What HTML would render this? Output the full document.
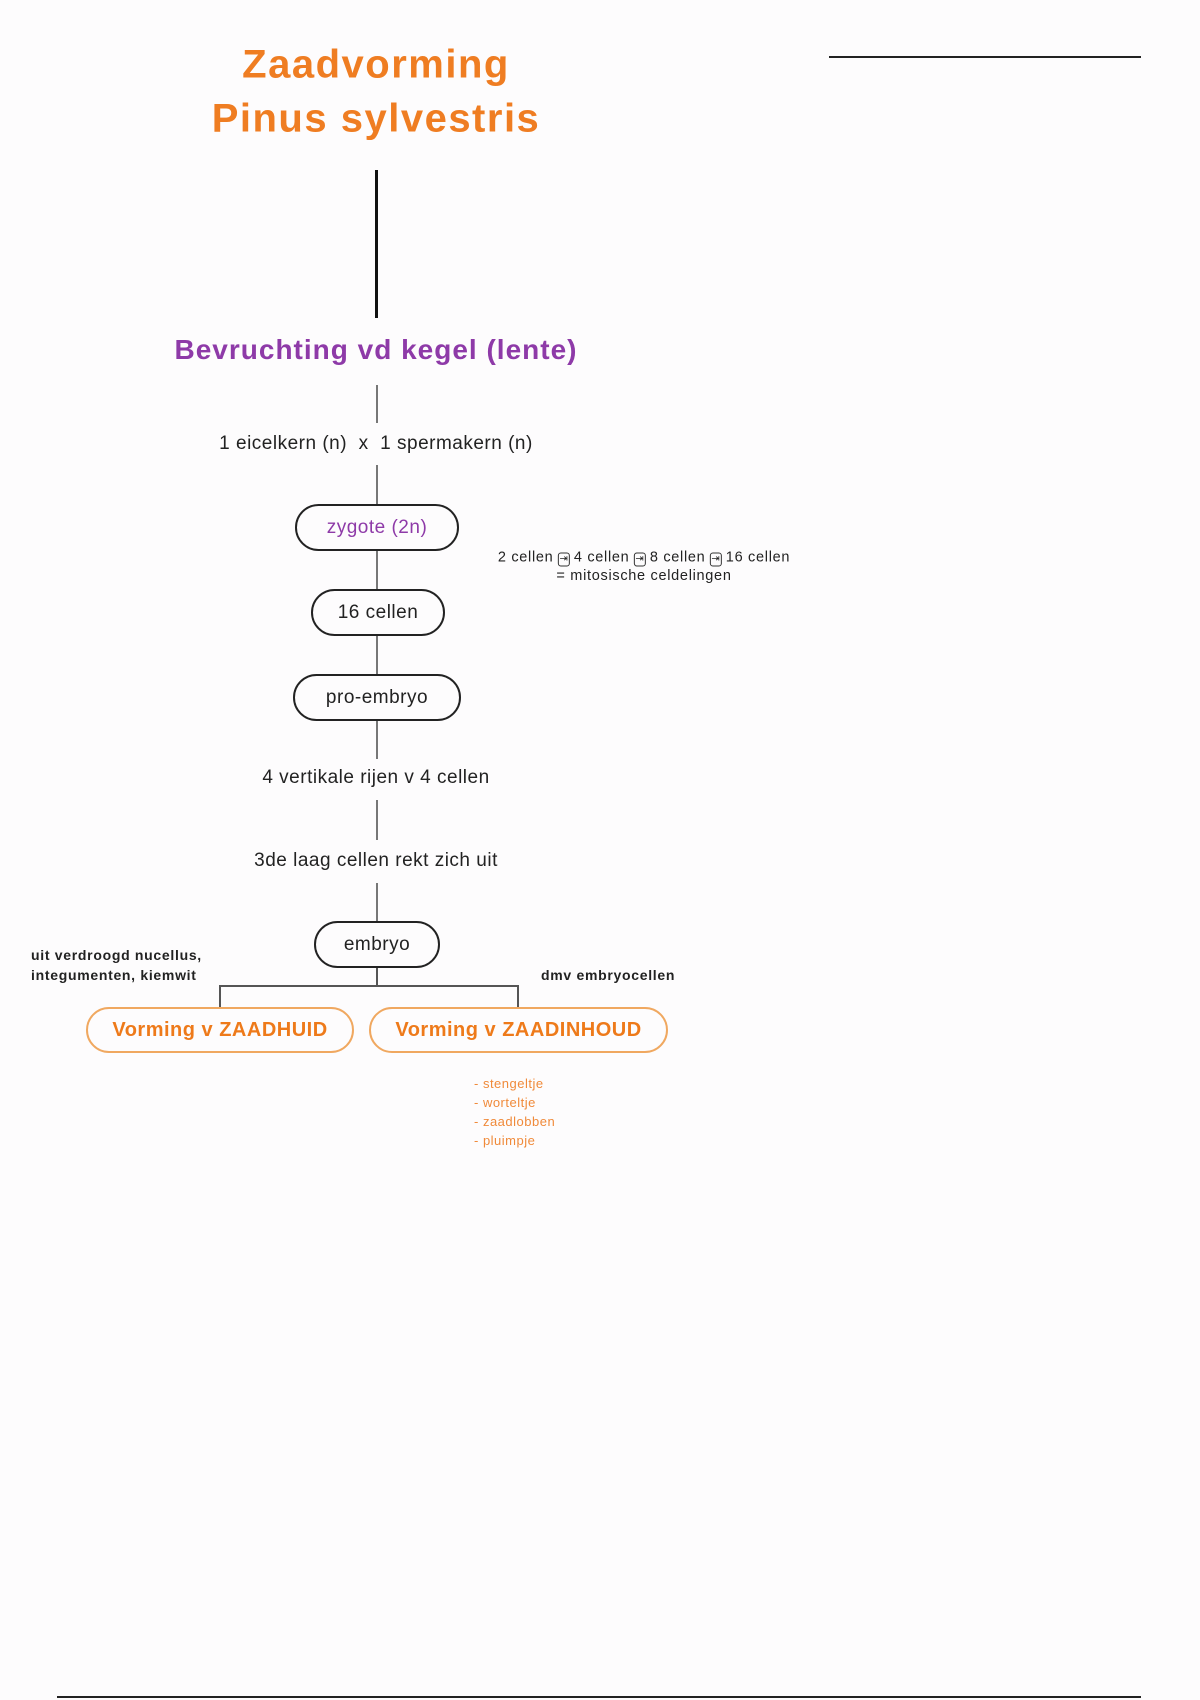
<!DOCTYPE html>
<html><head><meta charset="utf-8"><style>
body{margin:0;background:#fdfcfd;}
#c{position:relative;width:1200px;height:1700px;overflow:hidden;font-family:"Liberation Sans",sans-serif;color:#222;letter-spacing:0.5px;}
.t{position:absolute;white-space:nowrap;transform:translate(-50%,-50%);}
.l{position:absolute;background:#777;width:2px;}
.box{position:absolute;border:2px solid #222;border-radius:26px;box-sizing:border-box;display:flex;align-items:center;justify-content:center;font-size:19px;}
.ob{border-color:#f0a860;color:#ee7a1a;font-weight:bold;font-size:20px;}
.k{display:inline-block;border:1.5px solid #333;border-radius:3px;font-size:10px;line-height:12px;padding:0 1px;margin:0 4px;letter-spacing:0;}
</style></head><body><div id="c">
<div style="position:absolute;left:829px;top:56px;width:312px;height:2px;background:#222"></div>
<div style="position:absolute;left:57px;top:1696px;width:1084px;height:2px;background:#222"></div>

<div class="t" style="left:376px;top:65px;font-size:40px;font-weight:bold;color:#ef7d22;letter-spacing:1.5px">Zaadvorming</div>
<div class="t" style="left:376px;top:119px;font-size:40px;font-weight:bold;color:#ef7d22;letter-spacing:1.5px">Pinus sylvestris</div>
<div style="position:absolute;left:375px;top:170px;width:3px;height:148px;background:#111"></div>
<div class="t" style="left:376px;top:350px;font-size:28px;font-weight:bold;color:#8e3aa8;letter-spacing:1px">Bevruchting vd kegel (lente)</div>
<div class="l" style="left:376px;top:385px;height:38px"></div>
<div class="t" style="left:376px;top:444px;font-size:19px">1 eicelkern (n) &nbsp;x &nbsp;1 spermakern (n)</div>
<div class="l" style="left:376px;top:465px;height:40px"></div>
<div class="box" style="left:295px;top:504px;width:164px;height:47px;color:#8e3aa8">zygote (2n)</div>
<div class="l" style="left:376px;top:551px;height:38px"></div>
<div class="t" style="left:644px;top:558px;font-size:14.5px;letter-spacing:0.7px">2 cellen<span class="k">⇥</span>4 cellen<span class="k">⇥</span>8 cellen<span class="k">⇥</span>16 cellen</div>
<div class="t" style="left:644px;top:576px;font-size:14.5px;letter-spacing:0.7px">= mitosische celdelingen</div>
<div class="box" style="left:311px;top:589px;width:134px;height:47px">16 cellen</div>
<div class="l" style="left:376px;top:636px;height:38px"></div>
<div class="box" style="left:293px;top:674px;width:168px;height:47px">pro-embryo</div>
<div class="l" style="left:376px;top:721px;height:38px"></div>
<div class="t" style="left:376px;top:778px;font-size:19px">4 vertikale rijen v 4 cellen</div>
<div class="l" style="left:376px;top:800px;height:40px"></div>
<div class="t" style="left:376px;top:861px;font-size:19px">3de laag cellen rekt zich uit</div>
<div class="l" style="left:376px;top:883px;height:38px"></div>
<div class="box" style="left:314px;top:921px;width:126px;height:47px">embryo</div>
<div class="l" style="left:376px;top:968px;height:19px;background:#555"></div>
<div style="position:absolute;left:219px;top:985px;width:300px;height:2px;background:#555"></div>
<div class="l" style="left:219px;top:985px;height:23px;background:#555"></div>
<div class="l" style="left:517px;top:985px;height:23px;background:#555"></div>
<div class="box ob" style="left:86px;top:1007px;width:268px;height:46px">Vorming v ZAADHUID</div>
<div class="box ob" style="left:369px;top:1007px;width:299px;height:46px">Vorming v ZAADINHOUD</div>
<div style="position:absolute;left:31px;top:945px;font-size:14px;font-weight:bold;line-height:20px;letter-spacing:0.7px">uit verdroogd nucellus,<br>integumenten, kiemwit</div>
<div style="position:absolute;left:541px;top:967px;font-size:14px;font-weight:bold;letter-spacing:0.7px">dmv embryocellen</div>
<div style="position:absolute;left:474px;top:1074px;font-size:13px;color:#f08a3a;line-height:19px">- stengeltje<br>- worteltje<br>- zaadlobben<br>- pluimpje</div>
</div></body></html>
